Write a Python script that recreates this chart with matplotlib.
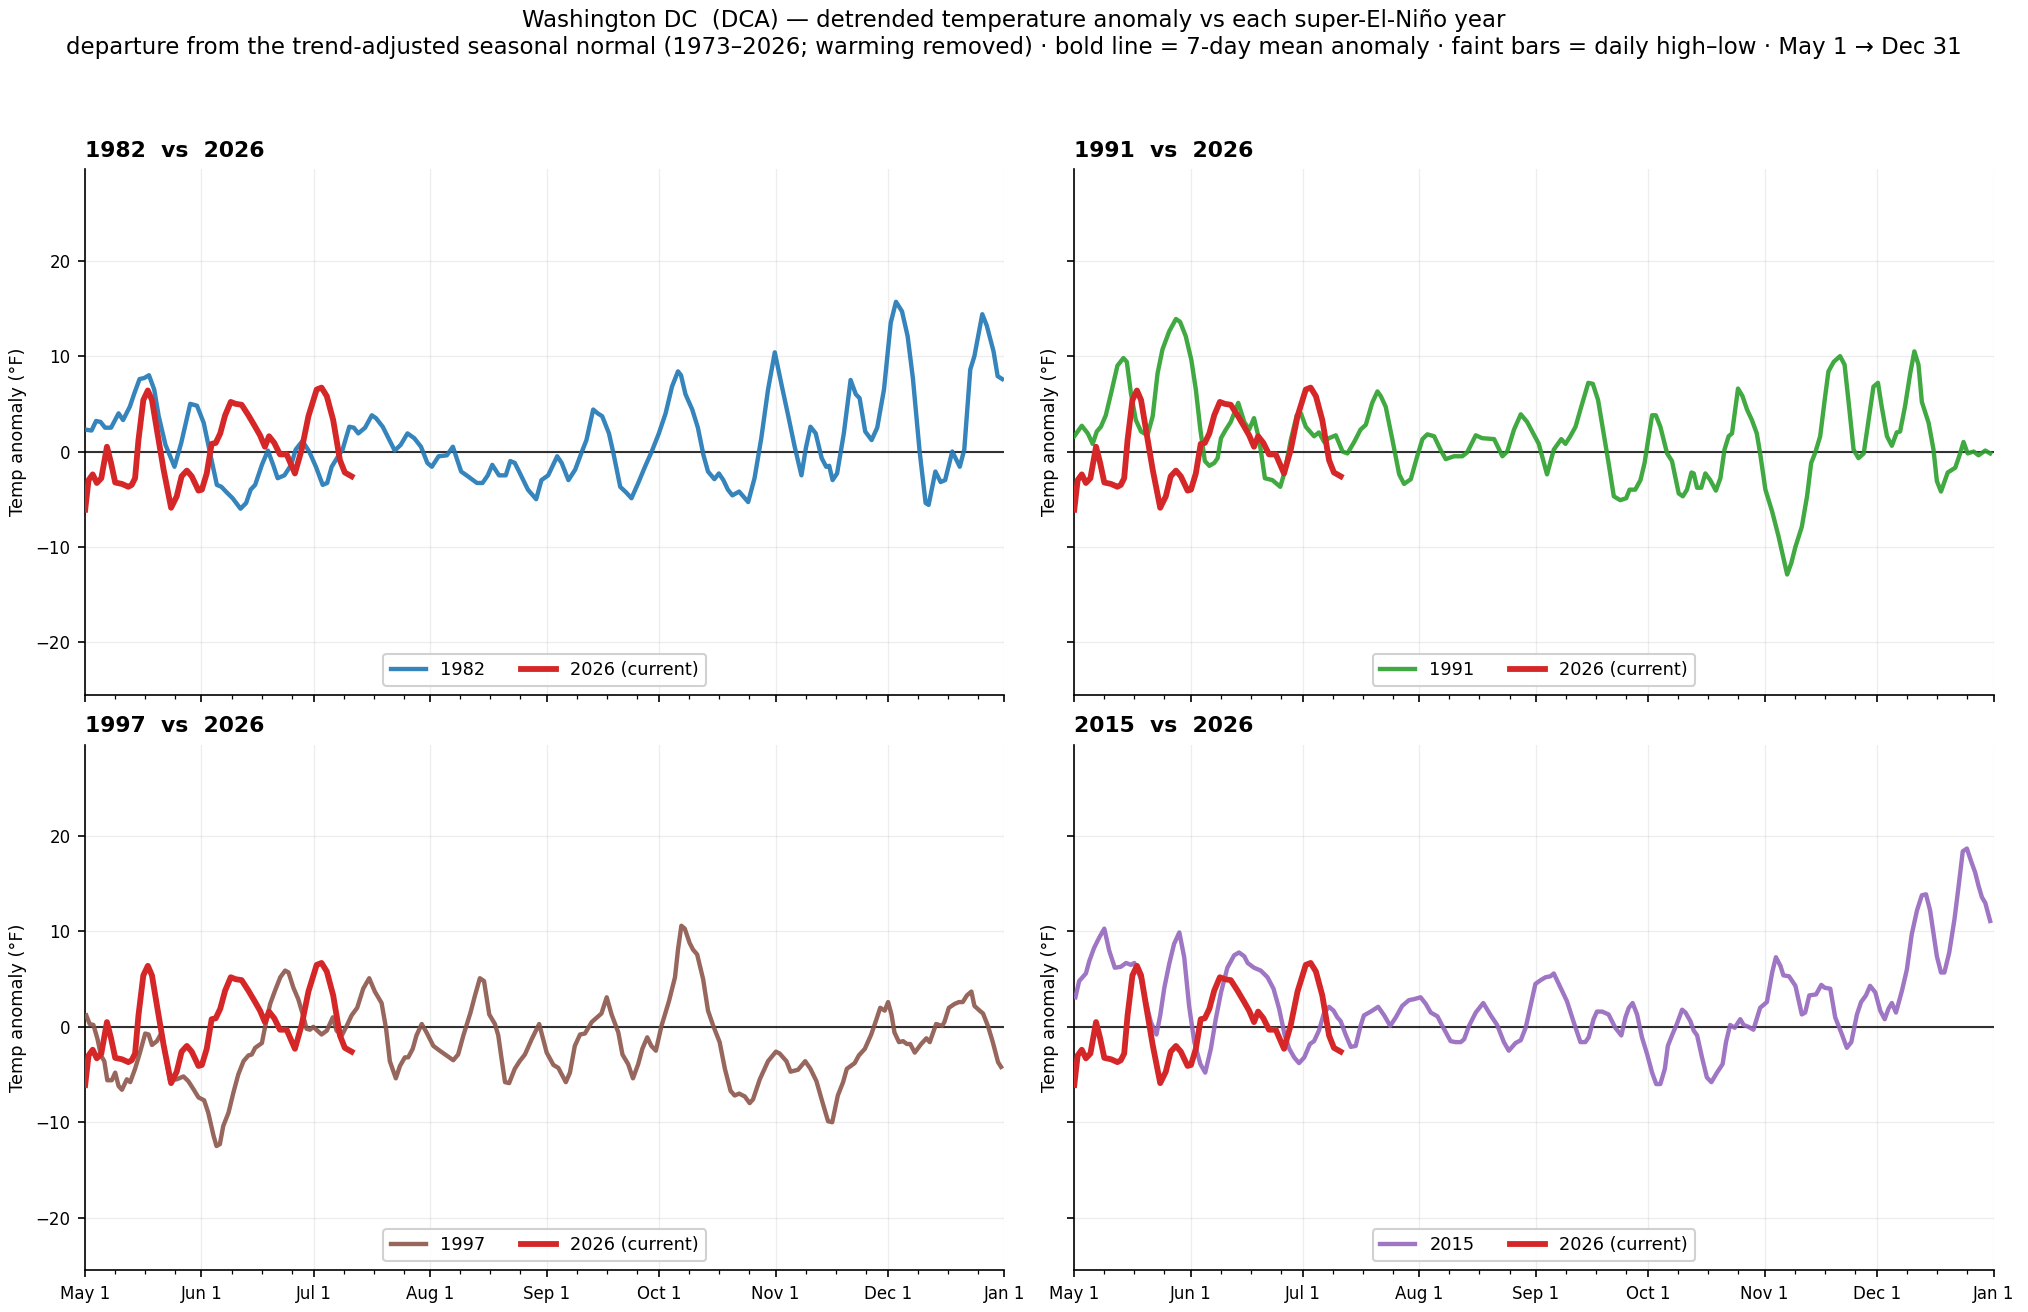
import datetime
import numpy as np
import matplotlib
matplotlib.use("Agg")
import matplotlib.pyplot as plt
import matplotlib.dates as mdates
from matplotlib.ticker import FuncFormatter

# 7-day mean anomaly (deg F), knots; day = days since May 1
days_2026 = [0, 0.9, 2, 3.1, 4.3, 5.8, 6.9, 8, 9.8, 11.5, 12.4, 13.3, 14.2, 15.5, 16.7, 17.8, 19.1,
             20.9, 22.9, 24.4, 25.7, 27.1, 28.4, 30.2, 31.1, 32.4, 33.7, 34.8, 36, 37.3, 38.8, 40.1,
             41.7, 43.5, 45.3, 46.6, 47.9, 49, 50.4, 51.9, 53.7, 55.9, 57.7, 59.5, 61.7, 63, 64.4,
             66.1, 67.9, 69.2, 71]
vals_2026 = [-6.1, -3.0, -2.4, -3.3, -2.8, 0.5, -1.2, -3.25, -3.4, -3.7, -3.5, -2.8, 1.2, 5.4, 6.4, 5.4, 2.3,
             -1.9, -5.9, -4.7, -2.6, -2.0, -2.6, -4.1, -4.0, -2.3, 0.8, 0.9, 1.9, 3.8, 5.2, 5.0,
             4.9, 3.8, 2.6, 1.7, 0.5, 1.6, 0.9, -0.3, -0.3, -2.3, 0.2, 3.7, 6.5, 6.7, 5.8,
             3.3, -0.9, -2.2, -2.6]

days_1982 = [0, 1.7, 2.9, 4.1, 5.3, 6.9, 8.9, 10.1, 11.9, 13.1, 14.5, 15.7, 17, 18.4, 19.6, 21.4, 23.8,
             25.6, 28, 29.8, 31.6, 33.3, 35.1, 36.3, 37.5, 39.3, 41.4, 42.9, 44.1, 45.3, 47.1, 48.7,
             50.1, 51.3, 53.1, 54.9, 56.1, 57.9, 59.7, 61.5, 63.3, 64.5, 65.7, 67.1, 68.6, 70.4, 71.6,
             72.8, 74.6, 76.4, 77.5, 79.3, 81.1, 82.5, 84.1, 85.9, 87.7, 89.5, 91.2, 92.4, 94.2, 96.4,
             98, 100.2, 102, 104.4, 105.9, 107.3, 108.5, 110.3, 112.1, 113.3, 114.5, 115.9, 118, 120.2,
             121.6, 123.4, 125.8, 127, 128.8, 130.6, 132.4, 133.6, 135.4, 136.6, 137.8, 139.6, 140.8,
             142.6, 144.2, 145.6, 147.4, 149.2, 151, 152.9, 154.7, 156.4, 158, 158.8, 160, 161.8, 163.3,
             164.8, 166, 167.7, 168.9, 170.1, 171.3, 172.5, 174.3, 176.7, 178.4, 180.2, 182, 183.8,
             185.6, 187.4, 189.1, 190.9, 192.1, 193.3, 194.7, 196.3, 197.5, 198.3, 199.2, 200.4, 202.2,
             204, 205.4, 206.4, 207.9, 209.6, 211.1, 212.9, 214.7, 216.1, 217.7, 219.2, 220.6, 222.4,
             224, 224.8, 226.6, 228, 229.2, 231.1, 233.1, 234.3, 235.9, 237, 239.1, 240.3, 242.1,
             243.2, 244.4]
vals_1982 = [2.3, 2.2, 3.2, 3.1, 2.5, 2.5, 4.0, 3.3, 4.7, 6.1, 7.6, 7.7, 8.0, 6.5, 3.7, 0.7, -1.6,
             0.9, 5.0, 4.8, 3.0, -0.2, -3.5, -3.7, -4.2, -4.9, -6.0, -5.4, -4.0, -3.5, -1.4, 0.1,
             -1.4, -2.8, -2.5, -1.4, 0.2, 1.1, 0.0, -1.6, -3.5, -3.3, -1.6, -0.7, 0.2, 2.6, 2.5,
             1.9, 2.5, 3.8, 3.5, 2.6, 1.2, 0.1, 0.7, 1.9, 1.4, 0.5, -1.2, -1.6, -0.5, -0.4,
             0.5, -2.1, -2.6, -3.3, -3.3, -2.5, -1.4, -2.5, -2.5, -1.0, -1.2, -2.3, -4.0, -5.0,
             -3.0, -2.5, -0.5, -1.2, -3.0, -1.9, 0.0, 1.2, 4.4, 4.0, 3.7, 1.9, -0.2,
             -3.7, -4.3, -4.9, -3.3, -1.6, 0.0, 1.9, 4.0, 6.8, 8.4, 8.0, 6.0, 4.4, 2.5,
             -0.4, -2.1, -2.9, -2.3, -3.0, -4.0, -4.6, -4.2, -5.3, -2.8, 1.4, 6.5, 10.4,
             7.0, 3.7, 0.5, -2.5, 0.4, 2.6, 1.9, -0.7, -1.6, -1.5, -3.0, -2.3, 1.9,
             7.5, 6.0, 5.6, 2.1, 1.2, 2.5, 6.5, 13.5, 15.7, 14.7, 12.1, 7.7, 0.0,
             -5.4, -5.6, -2.1, -3.2, -3.0, 0.0, -1.6, 0.2, 8.6, 10.0, 14.4, 13.2, 10.5,
             7.9, 7.6]

days_1991 = [0, 2, 3.6, 4.9, 6, 7.1, 8.4, 9.8, 11.5, 13.1, 14, 15.1, 16.4, 17.8, 19.5, 20.9, 22.2,
             23.5, 25.3, 27.1, 28.2, 29.7, 31.2, 32.4, 33.6, 34.8, 36, 37.3, 38.2, 39.1, 40.4, 41.7,
             43.7, 45.3, 46.6, 47.9, 49.3, 50.8, 52.8, 54.9, 56.1, 57.7, 59.3, 60.4, 61.7, 63.9, 65.2,
             66.6, 67.9, 69.7, 71.5, 72.8, 74.6, 76.3, 77.7, 79.4, 80.8, 81.7, 83, 84.8, 86.6, 87.9,
             89.7, 91.4, 92.8, 94.1, 95.9, 97.6, 99, 101.2, 103.4, 104.7, 107, 108.7, 111.9, 114.1,
             115.4, 117.2, 119, 120.7, 123.8, 126, 127.8, 129.8, 130.9, 132.2, 133.6, 134.9, 137,
             138.2, 139.6, 141.1, 142.4, 143.8, 145.5, 147.1, 148, 149.5, 150.9, 152, 153.1, 154, 155,
             156.2, 158, 159.3, 161.1, 162.2, 163.3, 164.5, 165.1, 166, 167.1, 168.2, 169.5, 171,
             172.2, 173.3, 174.4, 175.3, 176.9, 178.1, 179.3, 180.6, 181.9, 182.8, 184.2, 186, 187.7,
             188.9, 190, 191.1, 192.2, 193.9, 195.3, 196.4, 197.5, 198.8, 200, 201, 202.4, 204.1,
             205.3, 206.4, 207.7, 209, 210.4, 211.7, 213, 214.2, 215.2, 216.6, 217.9, 219.2, 220.1,
             221.4, 222.8, 223.9, 225, 225.9, 227.7, 229, 229.9, 231, 232.8, 234.8, 236.1, 237,
             238.1, 239.7, 241, 242.8, 244.1]
vals_1991 = [1.6, 2.7, 1.9, 0.8, 2.1, 2.6, 3.8, 6.1, 9.0, 9.8, 9.4, 6.1, 3.3, 2.1, 1.7, 3.7, 8.2,
             10.7, 12.6, 13.9, 13.6, 12.1, 9.6, 6.5, 2.3, -1.0, -1.5, -1.2, -0.7, 1.4, 2.3, 3.1,
             5.1, 3.1, 2.3, 3.5, 1.2, -2.8, -3.0, -3.7, -2.1, 1.2, 3.8, 4.0, 2.6, 1.6, 2.0,
             1.0, 1.4, 1.7, 0.0, -0.2, 1.0, 2.3, 2.8, 5.1, 6.3, 5.8, 4.7, 1.2, -2.4, -3.4,
             -2.9, -0.5, 1.3, 1.8, 1.6, 0.2, -0.8, -0.5, -0.5, -0.1, 1.7, 1.4, 1.3, -0.5,
             0.0, 2.3, 3.9, 3.1, 0.8, -2.4, 0.2, 1.3, 0.8, 1.6, 2.6, 4.4, 7.2,
             7.1, 5.4, 1.9, -1.2, -4.7, -5.1, -4.9, -4.0, -4.0, -3.0, -1.2, 1.6, 3.8, 3.8,
             2.6, -0.2, -1.0, -4.4, -4.7, -4.0, -2.2, -2.3, -3.8, -3.8, -2.3, -3.0, -4.1,
             -2.8, 0.2, 1.6, 1.9, 6.6, 5.8, 4.4, 3.3, 1.9, -0.2, -4.0, -6.3, -8.9,
             -11.0, -12.9, -11.7, -10.0, -7.9, -4.7, -1.2, -0.1, 1.6, 5.4, 8.4, 9.4, 10.0,
             9.1, 5.1, 0.2, -0.7, -0.2, 3.3, 6.8, 7.2, 4.7, 1.6, 0.6, 2.0, 2.1,
             4.7, 8.2, 10.5, 9.1, 5.2, 3.0, 0.2, -3.1, -4.2, -2.2, -1.7, -0.2, 1.0,
             -0.2, 0.0, -0.4, 0.1, -0.2]

days_1997 = [0.3, 1.2, 2.2, 3.3, 4.2, 5.1, 5.9, 7.1, 8, 8.9, 9.8, 11.1, 12, 13.3, 14.6, 16, 16.9,
             17.8, 19.1, 20.4, 21.6, 22.6, 24.4, 26.2, 27.5, 28.8, 30.2, 31.7, 32.8, 34.2, 35, 35.9,
             36.8, 38.2, 39.5, 40.8, 42.2, 43.5, 44.4, 45.3, 47.1, 48, 49.3, 50.6, 52, 53.3, 54.2,
             55.5, 56.8, 58, 59, 59.9, 60.8, 61.9, 63, 64.4, 66, 67, 68.4, 69.7, 71, 72.5, 74.1,
             75.7, 77.2, 79, 80.2, 81.2, 82.8, 83.9, 85.2, 86.1, 87.3, 88.3, 89.7, 91, 92.8, 94.5,
             96.3, 98.1, 99.4, 100.8, 102.7, 103.9, 105.2, 106.3, 107.7, 109.2, 110.1, 111, 111.9,
             113, 114.5, 115.8, 117.2, 119, 121, 123, 124.8, 126.1, 128.1, 129.2, 130.5, 131.9,
             133.2, 135, 137.6, 139, 140.3, 142.1, 143.2, 144.7, 146, 147.4, 148.5, 149.8, 150.9,
             152.1, 153.6, 155.6, 157.2, 158, 158.9, 159.8, 161.1, 162, 163.1, 164.7, 166, 167.4,
             169.1, 170.5, 172, 173.1, 174.3, 175.8, 177.1, 178, 179.8, 182, 184.1, 185.1, 186.9,
             188, 190, 191.9, 193.3, 194.9, 196.5, 198, 199.1, 200.6, 202, 203, 205.1, 206.2,
             207.8, 209.5, 210.9, 211.9, 213.1, 214, 214.9, 215.7, 216.9, 218, 219, 219.9, 221.1,
             222.8, 224.2, 225.1, 226.8, 228.4, 229, 230.2, 231.7, 232.9, 233.9, 235, 236.2, 237,
             238.4, 239.3, 240.6, 241.9, 243.3, 244.1]
vals_1997 = [1.2, 0.3, 0.2, -1.3, -3.0, -3.6, -5.6, -5.6, -4.8, -6.2, -6.6, -5.5, -5.8, -4.4, -2.7, -0.7, -0.8,
             -1.9, -1.5, -0.6, -3.4, -5.6, -5.5, -5.2, -5.7, -6.5, -7.4, -7.7, -9.0, -11.4, -12.5, -12.3,
             -10.4, -9.0, -6.9, -5.0, -3.6, -3.0, -2.9, -2.2, -1.7, 0.1, 2.4, 3.8, 5.2, 5.9, 5.7,
             4.1, 2.9, 1.3, -0.2, -0.3, 0.0, -0.4, -0.8, -0.4, 1.0, -0.4, -0.9, 0.1, 1.2, 2.0, 4.0,
             5.1, 3.7, 2.5, -0.2, -3.6, -5.4, -4.1, -3.2, -3.2, -2.3, -0.9, 0.3, -0.6, -2.0, -2.5,
             -3.0, -3.5, -2.9, -0.9, 1.5, 3.3, 5.1, 4.8, 1.3, 0.3, -0.9, -3.4, -5.8,
             -5.9, -4.4, -3.6, -2.9, -1.3, 0.3, -2.7, -4.0, -4.3, -5.8, -4.8, -2.0, -0.8,
             -0.7, 0.5, 1.4, 3.1, 1.3, -0.6, -2.9, -3.9, -5.4, -3.9, -2.3, -1.1, -2.0,
             -2.5, 0.1, 2.7, 5.2, 8.1, 10.6, 10.3, 8.8, 8.1, 7.6, 5.0, 1.7, 0.1,
             -1.6, -4.4, -6.7, -7.2, -7.0, -7.3, -8.0, -7.6, -5.5, -3.6, -2.6, -2.8, -3.6,
             -4.7, -4.5, -3.6, -4.4, -5.7, -7.9, -9.9, -10.0, -7.2, -5.8, -4.4, -3.8, -3.0,
             -2.3, -0.8, 0.8, 2.0, 1.7, 2.6, 1.3, -0.6, -1.6, -1.5, -1.8, -1.8, -2.7,
             -1.8, -1.2, -1.6, 0.3, 0.1, 0.5, 2.0, 2.4, 2.6, 2.6, 3.3, 3.7, 2.2,
             1.7, 1.4, 0.1, -1.6, -3.7, -4.2]

days_2015 = [0.3, 1.3, 3.1, 4, 5.3, 6.7, 8, 9.3, 10.8, 12.4, 13.8, 15.1, 16, 17.8, 19.1, 20.4, 21.9,
             22.9, 24, 25.3, 26.6, 28, 29.3, 30.6, 32, 33.6, 34.9, 36.4, 37.7, 39.1, 40.8, 42.6,
             43.9, 45.3, 46.2, 47.9, 49.7, 51.5, 53.1, 54.6, 56.1, 57.3, 58.6, 59.9, 61.3, 62.8,
             63.9, 65.2, 66.6, 67.9, 69.1, 70.1, 71, 72.3, 73.7, 75, 76.3, 77.2, 79, 81, 82.6,
             84.2, 85.7, 87.4, 89.2, 90.5, 92.3, 93.7, 95, 96.8, 98.5, 100.3, 101.6, 103, 103.9,
             105.2, 107, 109, 111, 112.7, 114.5, 115.8, 117.6, 119, 120.3, 121.6, 122.9, 124.3,
             125.6, 126.9, 127.8, 129.6, 131.3, 133.1, 134.9, 136.2, 137.1, 138.4, 139.3, 140.7,
             142.4, 144.2, 145.8, 146.9, 147.8, 148.8, 150, 151.3, 152.7, 154, 155.1, 156.2,
             157.4, 158.2, 159.3, 160.6, 162, 162.9, 164.2, 165.1, 166, 167.3, 168.6, 169.8,
             171.3, 172.8, 173.7, 174.8, 176, 177.5, 178.4, 179.7, 181, 182.8, 184.6, 186, 187,
             188.2, 189, 190.5, 192.2, 193.9, 194.8, 195.9, 197.7, 199.1, 200, 201.5, 202.8,
             204.6, 205.9, 207.1, 208.6, 209.7, 211, 212.1, 213.5, 214.8, 216, 217, 217.9, 219,
             220.6, 221.9, 223.2, 224.6, 225.9, 227, 228.1, 229.9, 231, 231.9, 233.2, 234.6,
             235.8, 236.8, 237.9, 239, 240.1, 241, 241.9, 242.8, 244.1]
vals_2015 = [3.1, 4.8, 5.6, 6.9, 8.3, 9.4, 10.3, 8.0, 6.2, 6.3, 6.7, 6.5, 6.7, 5.0, 2.6, 0.5, -0.8,
             1.2, 4.1, 6.6, 8.7, 9.9, 7.3, 2.2, -1.6, -3.9, -4.8, -2.3, 0.8, 3.6, 6.2, 7.5,
             7.8, 7.4, 6.7, 6.2, 5.9, 5.2, 4.0, 1.9, -0.9, -2.3, -3.2, -3.8, -3.2, -1.8,
             -1.5, -0.4, 1.5, 2.1, 1.7, 1.0, 0.6, -0.8, -2.1, -2.0, 0.1, 1.2, 1.6, 2.1, 1.2,
             0.1, 1.0, 2.2, 2.8, 2.9, 3.1, 2.4, 1.5, 1.1, -0.2, -1.5, -1.6, -1.6, -1.3,
             0.1, 1.5, 2.5, 1.2, 0.2, -1.6, -2.5, -1.7, -1.4, -0.1, 2.2, 4.5, 4.9,
             5.2, 5.3, 5.6, 4.1, 2.7, 0.5, -1.6, -1.6, -1.1, 0.8, 1.6, 1.6,
             1.3, -0.1, -0.9, 1.0, 2.0, 2.5, 1.3, -1.1, -2.9, -4.8, -6.0, -6.0,
             -4.4, -2.0, -0.9, 0.3, 1.8, 1.5, 0.6, -0.4, -0.9, -3.2, -5.3, -5.8,
             -4.8, -3.9, -1.6, 0.2, -0.1, 0.8, 0.2, 0.0, -0.3, 2.0, 2.6, 5.7, 7.3,
             6.4, 5.4, 5.3, 4.3, 1.3, 1.5, 3.3, 3.4, 4.4, 4.1, 4.0, 1.0,
             -0.8, -2.2, -1.6, 1.3, 2.6, 3.3, 4.3, 3.6, 1.7, 0.8, 1.9, 2.5, 1.5,
             3.8, 6.0, 9.7, 12.2, 13.8, 13.9, 12.2, 7.4, 5.7, 5.7, 7.8, 11.3,
             15.1, 18.4, 18.7, 17.4, 16.2, 14.8, 13.6, 13.0, 11.1]

years = ["1982", "1991", "1997", "2015"]
year_days = [days_1982, days_1991, days_1997, days_2015]
year_vals = [vals_1982, vals_1991, vals_1997, vals_2015]
colors = ["#1f77b4", "#2ca02c", "#8c564b", "#9467bd"]
current_color = "#d62728"

start = mdates.date2num(datetime.datetime(2026, 5, 1))
end = mdates.date2num(datetime.datetime(2027, 1, 1))


def month_label(x, pos):
    d = mdates.num2date(x)
    return d.strftime("%b ") + str(d.day)


fig, axes = plt.subplots(2, 2, figsize=(13.52, 8.7467), dpi=150, sharex=True, sharey=True)
fig.subplots_adjust(left=0.042, right=0.983, top=0.871, bottom=0.032, wspace=0.076, hspace=0.095)

for ax, yr, d, v, c in zip(axes.flat, years, year_days, year_vals, colors):
    ax.axhline(0, color="black", lw=1.0, alpha=0.8, zorder=2)
    ax.plot(start + np.array(d), v, color=c, lw=2.1, alpha=0.9, label=yr, zorder=3)
    ax.plot(start + np.array(days_2026), vals_2026, color=current_color, lw=2.8,
            label="2026 (current)", zorder=4)
    ax.set_title(f"{yr}  vs  2026", loc="left", fontsize=10.5, fontweight="bold")
    ax.set_ylabel("Temp anomaly (°F)", fontsize=8.5)
    ax.grid(True, color="#cccccc", alpha=0.35, lw=0.6)
    ax.spines["top"].set_visible(False)
    ax.spines["right"].set_visible(False)
    ax.legend(loc="lower center", ncol=2, fontsize=8.5, framealpha=0.9)
    ax.tick_params(labelsize=8)

ax = axes[0, 0]
ax.set_xlim(start, end)
ax.set_ylim(-25.5, 29.6)
ax.set_yticks([-20, -10, 0, 10, 20])
ax.xaxis.set_major_locator(mdates.MonthLocator())
ax.xaxis.set_major_formatter(FuncFormatter(month_label))
ax.xaxis.set_minor_locator(mdates.DayLocator(bymonthday=[9, 17, 25]))

fig.suptitle("Washington DC  (DCA) — detrended temperature anomaly vs each super-El-Niño year\n"
             "departure from the trend-adjusted seasonal normal (1973–2026; warming removed) · "
             "bold line = 7-day mean anomaly · faint bars = daily high–low · May 1 → Dec 31",
             fontsize=11, y=0.993, va="top")

fig.savefig("out.png", dpi=150)
